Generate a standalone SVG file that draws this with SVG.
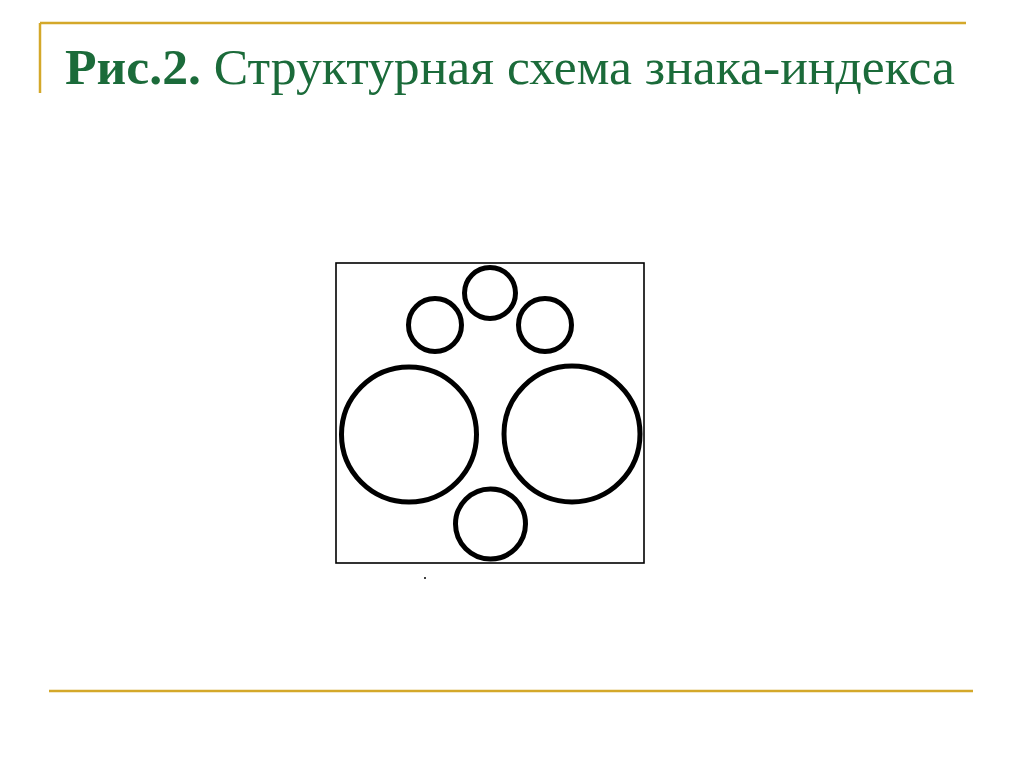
<svg xmlns="http://www.w3.org/2000/svg" width="1024" height="767" viewBox="0 0 1024 767">
<style>
.rule{stroke:#d4a82a;stroke-width:2.5;fill:none}
.ring{fill:none;stroke:#000;stroke-width:5}
.title{font-family:"Liberation Serif","DejaVu Serif",serif;fill:#1b6b3a;font-size:50px}
</style>
<rect width="1024" height="767" fill="#fff"/>
<g id="frame">
<line class="rule" x1="40" y1="23" x2="966" y2="23"/>
<line class="rule" x1="40" y1="23" x2="40" y2="93"/>
<line class="rule" x1="49" y1="691" x2="973" y2="691"/>
</g>
<g id="title">
<text class="title" x="65" y="84" textLength="890" lengthAdjust="spacingAndGlyphs"><tspan font-weight="bold">Рис.2.</tspan> Структурная схема знака-индекса</text>
</g>
<g id="diagram">
<rect x="336" y="263" width="308" height="300" fill="none" stroke="#000" stroke-width="1.6"/>
<circle class="ring" cx="490" cy="293" r="25.5"/>
<circle class="ring" cx="435" cy="325" r="26.5"/>
<circle class="ring" cx="545" cy="325" r="26.5"/>
<circle class="ring" cx="409" cy="434.5" r="67.5"/>
<circle class="ring" cx="572" cy="434" r="68"/>
<circle class="ring" cx="490.5" cy="524" r="35"/>
<circle cx="425" cy="578" r="1" fill="#000"/>
</g>
</svg>
